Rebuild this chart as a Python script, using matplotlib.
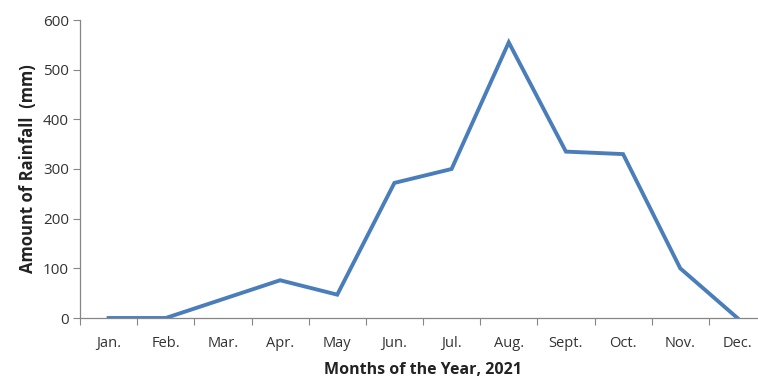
import matplotlib.pyplot as plt

# Monthly rainfall, 2021
months = ["Jan.", "Feb.", "Mar.", "Apr.", "May", "Jun.", "Jul.", "Aug.",
          "Sept.", "Oct.", "Nov.", "Dec."]
rainfall = [0, 0, 38, 76, 47, 272, 300, 555, 335, 330, 100, 0]
y_ticks = [0, 100, 200, 300, 400, 500, 600]

plt.rcParams['font.family'] = ['Open Sans', 'DejaVu Sans']

fig = plt.figure(figsize=(7.58, 3.8), dpi=100)
ax = fig.add_axes([80 / 758, 62 / 380, 686 / 758, 298 / 380])

x = list(range(len(months)))
ax.plot(x, rainfall, color='#4A7EBB', linewidth=2.8, solid_joinstyle='miter')

ax.set_xlim(-0.5, len(months) - 0.5)
ax.set_ylim(0, 600)
ax.set_yticks(y_ticks)
ax.set_yticklabels([str(v) for v in y_ticks], fontsize=11, color='#333333')

# category ticks sit between the months, labels at the centres
ax.set_xticks([i - 0.5 for i in range(len(months))])
ax.set_xticklabels([])
ax.set_xticks(x, minor=True)
ax.set_xticklabels(months, minor=True, fontsize=10.5, color='#333333')
ax.tick_params(axis='x', which='minor', length=0, pad=13)
ax.tick_params(axis='x', which='major', length=5, color='#868686', direction='out')
ax.tick_params(axis='y', length=5, color='#868686', pad=3)

for side in ['top', 'right']:
    ax.spines[side].set_visible(False)
for side in ['left', 'bottom']:
    ax.spines[side].set_color('#868686')
    ax.spines[side].set_linewidth(0.9)

ax.set_xlabel("Months of the Year, 2021", fontsize=11.5, fontweight='bold',
              color='#222222', labelpad=8)
ax.set_ylabel("Amount of Rainfall  (mm)", fontsize=12, fontweight='bold',
              color='#222222', labelpad=4)

plt.savefig("out.png", dpi=100)
plt.close()
